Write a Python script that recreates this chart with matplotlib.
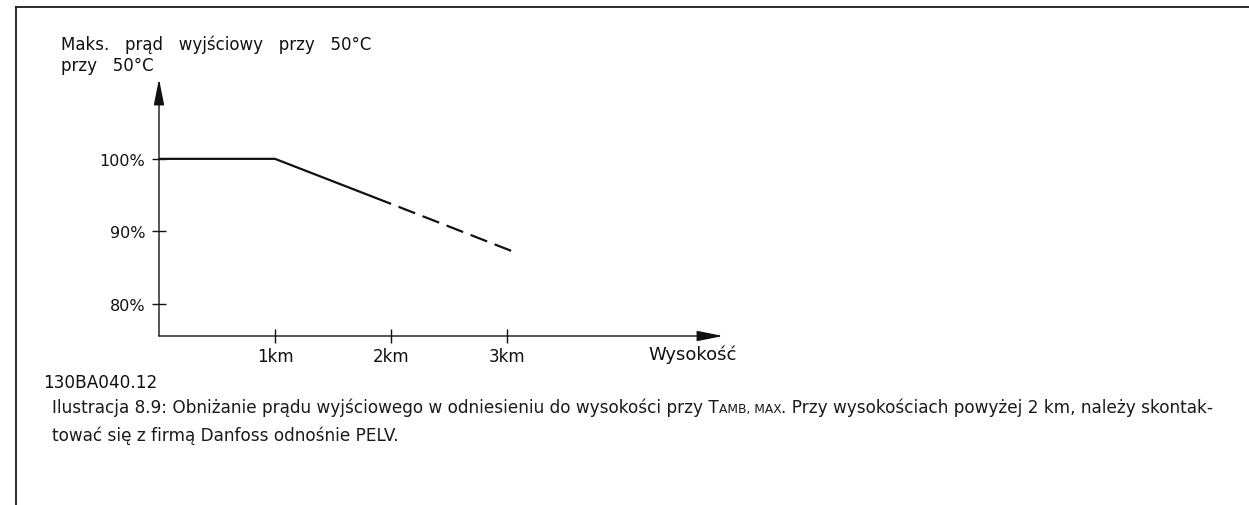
import matplotlib
matplotlib.use("Agg")
import matplotlib.pyplot as plt
from matplotlib.lines import Line2D
from matplotlib.patches import FancyArrowPatch

# ── Data ──────────────────────────────────────────────────
alt_solid   = [0.0, 1.0, 2.0]          # km
cur_solid   = [100.0, 100.0, 93.8]     # %
alt_dashed  = [2.0, 3.04]
cur_dashed  = [93.8, 87.3]
xticks      = [1, 2, 3]
xticklabels = ["1km", "2km", "3km"]
yticks      = [80, 90, 100]
yticklabels = ["80%", "90%", "100%"]

W, H = 1249, 506
INK = "#111111"
CAD = ["DejaVu Sans"]
CAPTION_FONT = ["DejaVu Sans"]

fig = plt.figure(figsize=(W / 100, H / 100), dpi=100)
fig.patch.set_facecolor("white")

def fx(x): return x / W
def fy(y): return 1 - y / H

# page frame (top and left rules)
fig.add_artist(Line2D([fx(16), 1.0], [fy(8), fy(8)], color="#1a1a1a", lw=1.3))
fig.add_artist(Line2D([fx(16), fx(16)], [fy(8), 0.0], color="#1a1a1a", lw=1.3))

# ── Diagram axes: origin at (159, 337), x arrow tip 723, y arrow tip 80 ──
ax = fig.add_axes([fx(159), fy(337), fx(723) - fx(159), (337 - 80) / H])
ax.set_xlim(0, 4.86)
ax.set_ylim(75.6, 111.0)
ax.patch.set_alpha(0)
for sp in ax.spines.values():
    sp.set_visible(False)

# axis lines with arrow heads
for end in [(1, 0), (0, 1)]:
    ax.add_patch(FancyArrowPatch((0, 0), end, transform=ax.transAxes,
                                 arrowstyle="-|>,head_length=16,head_width=3.2",
                                 mutation_scale=1, color=INK, lw=1.0,
                                 shrinkA=0, shrinkB=0, clip_on=False))

ax.plot(alt_solid, cur_solid, color=INK, lw=1.6, solid_capstyle="butt")
ax.plot(alt_dashed, cur_dashed, color=INK, lw=1.6,
        linestyle=(8, (8, 3.6)), dash_capstyle="butt")

ax.set_xticks(xticks)
ax.set_xticklabels(xticklabels, family=CAD, fontsize=12, color=INK)
ax.set_yticks(yticks)
ax.set_yticklabels(yticklabels, family=CAD, fontsize=11.5, color=INK)
ax.tick_params(axis="both", direction="inout", length=10, width=1.0, color=INK)
ax.tick_params(axis="y", pad=5)
ax.tick_params(axis="x", pad=3)

fig.text(fx(737), fy(360), "Wysokość", ha="right", va="baseline",
         family=CAD, fontsize=13, color=INK)

# CAD lettering uses very wide word gaps
fig.text(fx(61), fy(50), "Maks.   prąd   wyjściowy   przy   50°C", ha="left",
         va="baseline", family=CAD, fontsize=12, color=INK)
fig.text(fx(61), fy(71), "przy   50°C", ha="left", va="baseline",
         family=CAD, fontsize=12, color=INK)

fig.text(fx(43), fy(388), "130BA040.12", ha="left", va="baseline",
         family=CAD, fontsize=12.2, color=INK)

# ── Caption ───────────────────────────────────────────────
cap_kw = dict(family=CAPTION_FONT, color="#1a1a1a")
CAP_FS = 12.2
t1 = fig.text(fx(52), fy(413),
              "Ilustracja 8.9: Obniżanie prądu wyjściowego w odniesieniu do wysokości przy T",
              ha="left", va="baseline", fontsize=CAP_FS, **cap_kw)
t2 = fig.text(0, 0, "AMB, MAX", ha="left", va="baseline", fontsize=CAP_FS * 0.72,
              **cap_kw)
t3 = fig.text(0, 0, ". Przy wysokościach powyżej 2 km, należy skontak-",
              ha="left", va="baseline", fontsize=CAP_FS, **cap_kw)
fig.text(fx(52), fy(441), "tować się z firmą Danfoss odnośnie PELV.",
         ha="left", va="baseline", fontsize=CAP_FS, **cap_kw)

# chain the caption pieces
fig.canvas.draw()
r = fig.canvas.get_renderer()
bb1 = t1.get_window_extent(r)
t2.set_position((bb1.x1 / W, fy(413)))
bb2 = t2.get_window_extent(r)
t3.set_position((bb2.x1 / W, fy(413)))

fig.savefig("out.png", dpi=100, facecolor="white")
plt.close(fig)
